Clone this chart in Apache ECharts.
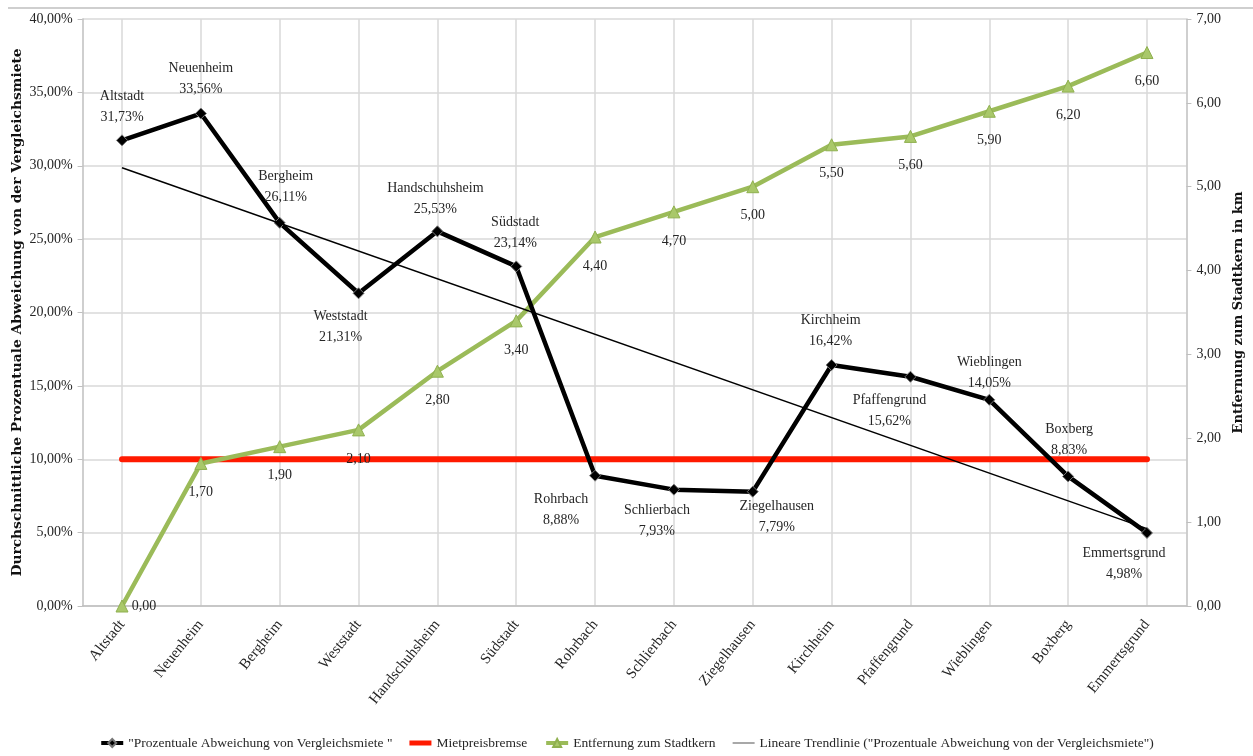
<!DOCTYPE html>
<html>
<head>
<meta charset="utf-8">
<script src="https://cdn.jsdelivr.net/npm/echarts@6/dist/echarts.min.js"></script>
<style>
  html, body { margin: 0; padding: 0; background: #fff; }
  #chart { width: 1253px; height: 756px; }
</style>
</head>
<body>
<div id="chart"></div>
<script>
// Stadtteile Heidelberg
const districts = ['Altstadt', 'Neuenheim', 'Bergheim', 'Weststadt', 'Handschuhsheim', 'Südstadt',
  'Rohrbach', 'Schlierbach', 'Ziegelhausen', 'Kirchheim', 'Pfaffengrund', 'Wieblingen', 'Boxberg', 'Emmertsgrund'];

// Durchschnittliche prozentuale Abweichung von der Vergleichsmiete (%)
const deviationPct = [31.73, 33.56, 26.11, 21.31, 25.53, 23.14, 8.88, 7.93, 7.79, 16.42, 15.62, 14.05, 8.83, 4.98];

// Entfernung zum Stadtkern (km)
const distanceKm = [0.00, 1.70, 1.90, 2.10, 2.80, 3.40, 4.40, 4.70, 5.00, 5.50, 5.60, 5.90, 6.20, 6.60];

// Mietpreisbremse (10 %)
const rentCapPct = [10, 10, 10, 10, 10, 10, 10, 10, 10, 10, 10, 10, 10, 10];

// Lineare Trendlinie: Werte am ersten und letzten Stadtteil (%)
const trendEnds = [29.86, 5.27];

const SERIF = 'Liberation Serif';
const TITLE_FONT = 'DejaVu Serif';
const TEXT = '#262626';
const GRID = '#d9d9d9';

const fmt2 = v => v.toFixed(2).replace('.', ',');

// label placement (dx, dy) relative to each point of the deviation line
const devLabelShift = [
  [0, -34], [0, -35], [6, -36], [-18, 34], [-2, -33], [-1, -34], [-34, 34],
  [-17, 31], [24, 25], [-1, -34], [-21, 34], [0, -27], [1, -37], [-23, 31]
];
const distLabelShift = distanceKm.map((_, i) => i === 0 ? [22, 0] : [0, 29]);

const devData = deviationPct.map((v, i) => ({
  value: v,
  label: { offset: devLabelShift[i] }
}));
const distData = distanceKm.map((v, i) => ({
  value: v,
  label: { offset: distLabelShift[i] }
}));

// legend icons for the plain lines (bar centred in a 22x10 box)
const thickBarIcon = 'path://M0,0H0.1V0Z M0,2.6H22V7.4H0Z M0,10H0.1V10Z';
const thinBarIcon = 'path://M0,0H0.1V0Z M0,4.2H22V5.8H0Z M0,10H0.1V10Z';

const chart = echarts.init(document.getElementById('chart'), null, { renderer: 'canvas' });

chart.setOption({
  animation: false,
  backgroundColor: '#ffffff',
  textStyle: { fontFamily: SERIF, color: TEXT },
  graphic: [{
    type: 'line',
    shape: { x1: 8, y1: 8, x2: 1253, y2: 8 },
    style: { stroke: '#cfcfcf', lineWidth: 2 },
    silent: true
  }],
  grid: { left: 82.6, right: 66.6, top: 19, bottom: 150, containLabel: false, outerBoundsMode: 'none' },
  legend: {
    bottom: 1,
    left: 'center',
    itemWidth: 22,
    itemHeight: 10,
    itemGap: 17,
    textStyle: { fontFamily: SERIF, fontSize: 13.5, color: TEXT },
    data: [
      { name: '"Prozentuale Abweichung von Vergleichsmiete "', lineStyle: { width: 4 } },
      { name: 'Mietpreisbremse', icon: thickBarIcon, itemStyle: { color: '#ff1a00', borderWidth: 0 } },
      { name: 'Entfernung zum Stadtkern', lineStyle: { width: 4 } },
      { name: 'Lineare Trendlinie ("Prozentuale Abweichung von der Vergleichsmiete")', icon: thinBarIcon,
        itemStyle: { color: '#8c8c8c', borderWidth: 0 } }
    ]
  },
  xAxis: {
    type: 'category',
    data: districts,
    boundaryGap: true,
    axisLine: { lineStyle: { color: '#bfbfbf', width: 1.5 } },
    axisTick: { alignWithLabel: true, length: 5, lineStyle: { color: '#bfbfbf' } },
    splitLine: { show: true, alignWithLabel: true, lineStyle: { color: GRID, width: 1.5 } },
    axisLabel: {
      rotate: 51, margin: 16, interval: 0,
      fontFamily: SERIF, fontSize: 15, color: TEXT
    }
  },
  yAxis: [{
    type: 'value',
    min: 0, max: 40, interval: 5,
    name: 'Durchschnittliche Prozentuale Abweichung von der Vergleichsmiete',
    nameLocation: 'middle',
    nameGap: 58,
    nameMoveOverlap: false,
    nameTextStyle: { fontFamily: TITLE_FONT, fontSize: 13.8, fontWeight: 'bold', color: '#111' },
    axisLine: { show: true, lineStyle: { color: '#bfbfbf', width: 1.5 } },
    axisTick: { show: true, length: 5, lineStyle: { color: '#bfbfbf' } },
    splitLine: { show: true, lineStyle: { color: GRID, width: 1.5 } },
    axisLabel: {
      fontFamily: SERIF, fontSize: 14, color: TEXT, margin: 10,
      formatter: v => fmt2(v) + '%'
    }
  }, {
    type: 'value',
    min: 0, max: 7, interval: 1,
    position: 'right',
    name: 'Entfernung zum Stadtkern in km',
    nameLocation: 'middle',
    nameGap: 46,
    nameMoveOverlap: false,
    nameTextStyle: { fontFamily: TITLE_FONT, fontSize: 13, fontWeight: 'bold', color: '#111' },
    axisLine: { show: true, lineStyle: { color: '#bfbfbf', width: 1.5 } },
    axisTick: { show: true, length: 5, lineStyle: { color: '#bfbfbf' } },
    splitLine: { show: false },
    axisLabel: {
      fontFamily: SERIF, fontSize: 14, color: TEXT, margin: 10,
      formatter: v => fmt2(v)
    }
  }],
  series: [{
    name: '"Prozentuale Abweichung von Vergleichsmiete "',
    type: 'line',
    yAxisIndex: 0,
    z: 4,
    data: devData,
    symbol: 'diamond',
    symbolSize: 11,
    lineStyle: { color: '#000', width: 4.5 },
    itemStyle: { color: '#000', borderColor: '#777', borderWidth: 1 },
    label: {
      show: true,
      position: 'inside',
      align: 'center',
      verticalAlign: 'middle',
      fontFamily: SERIF, fontSize: 14, color: TEXT, lineHeight: 21,
      formatter: p => p.name + '\n' + fmt2(p.value) + '%'
    }
  }, {
    name: 'Mietpreisbremse',
    type: 'line',
    yAxisIndex: 0,
    z: 2,
    data: rentCapPct,
    symbol: 'none',
    lineStyle: { color: '#ff1a00', width: 6, cap: 'round' },
    itemStyle: { color: '#ff1a00' }
  }, {
    name: 'Entfernung zum Stadtkern',
    type: 'line',
    yAxisIndex: 1,
    z: 3,
    data: distData,
    symbol: 'triangle',
    symbolSize: 12,
    lineStyle: { color: '#9bbb59', width: 4.5 },
    itemStyle: { color: '#a9c86a', borderColor: '#8fb04f', borderWidth: 1 },
    label: {
      show: true,
      position: 'inside',
      align: 'center',
      verticalAlign: 'middle',
      fontFamily: SERIF, fontSize: 14, color: TEXT,
      formatter: p => fmt2(p.value)
    }
  }, {
    name: 'Lineare Trendlinie ("Prozentuale Abweichung von der Vergleichsmiete")',
    type: 'line',
    yAxisIndex: 0,
    z: 5,
    data: [[districts[0], trendEnds[0]], [districts[districts.length - 1], trendEnds[1]]],
    symbol: 'none',
    lineStyle: { color: '#000', width: 1.5 },
    itemStyle: { color: '#8c8c8c' }
  }]
});
</script>
</body>
</html>
